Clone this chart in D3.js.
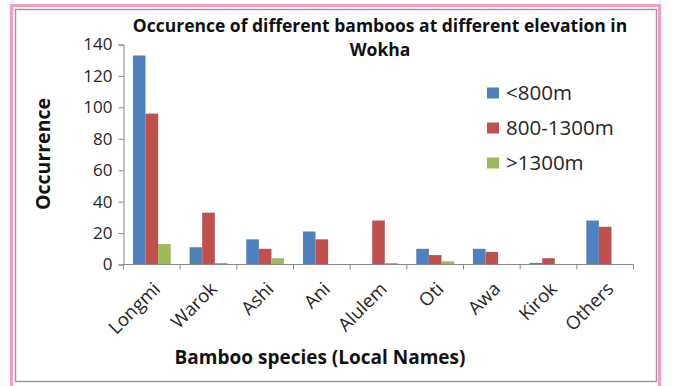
<!DOCTYPE html>
<html>
<head>
<meta charset="utf-8">
<script src="https://cdn.jsdelivr.net/npm/d3@7"></script>
<style>
  html, body { margin: 0; padding: 0; background: #fff; }
  svg { display: block; font-family: "Open Sans", "DejaVu Sans", sans-serif; }
</style>
</head>
<body>
<svg id="chart" width="674" height="386"></svg>
<script>
// Bamboo occurrence by elevation band, Wokha
const species = ["Longmi", "Warok", "Ashi", "Ani", "Alulem", "Oti", "Awa", "Kirok", "Others"];
const seriesNames = ["<800m", "800-1300m", ">1300m"];
const below800 = [133, 11, 16, 21, 0, 10, 10, 1, 28];
const mid800to1300 = [96, 33, 10, 16, 28, 6, 8, 4, 24];
const above1300 = [13, 1, 4, 0, 1, 2, 0, 0, 0];
const yTicks = [0, 20, 40, 60, 80, 100, 120, 140];
const seriesColors = ["#4F81BD", "#C0504D", "#9BBB59"];

const seriesValues = [below800, mid800to1300, above1300];

const svg = d3.select("#chart");
const W = 674, H = 386;

svg.append("rect").attr("width", W).attr("height", H).attr("fill", "#fff");

// outer pink frame and grey chart-area border
svg.append("rect")
  .attr("x", 11.5).attr("y", 5.5).attr("width", 648).attr("height", 390)
  .attr("fill", "none").attr("stroke", "#F59BC6").attr("stroke-width", 3);
svg.append("rect")
  .attr("x", 15.5).attr("y", 9.5).attr("width", 641).attr("height", 372)
  .attr("fill", "none").attr("stroke", "#9c9c9c").attr("stroke-width", 1.5);

const plot = { left: 123.5, right: 633.5, top: 44.5, bottom: 264.5 };

const x = d3.scaleBand().domain(species).range([plot.left, plot.right]).padding(0);
const y = d3.scaleLinear().domain([0, 140]).range([plot.bottom, plot.top]);

// three bars per category with a 150% gap between clusters
const barW = x.bandwidth() / 4.5;
const groups = svg.append("g").selectAll("g")
  .data(seriesValues)
  .join("g")
  .attr("fill", (d, i) => seriesColors[i]);
groups.each(function (vals, si) {
  d3.select(this).selectAll("rect")
    .data(vals)
    .join("rect")
    .attr("x", (v, ci) => x(species[ci]) + barW * 0.75 + si * barW)
    .attr("width", barW)
    .attr("y", v => y(v))
    .attr("height", v => y(0) - y(v));
});

// y axis
const yAxis = svg.append("g")
  .attr("transform", `translate(${plot.left},0)`)
  .call(d3.axisLeft(y).tickValues(yTicks).tickSize(5).tickPadding(6).tickFormat(d3.format("d")));
yAxis.select(".domain").attr("stroke", "#868686");
yAxis.selectAll(".tick line").attr("stroke", "#868686");
yAxis.selectAll("text")
  .attr("font-size", 17).attr("fill", "#262626")
  .attr("font-family", "'Open Sans', sans-serif");

// x axis: tick marks fall between categories
const xAxisG = svg.append("g").attr("transform", `translate(0,${plot.bottom})`);
xAxisG.append("line")
  .attr("x1", plot.left).attr("x2", plot.right)
  .attr("stroke", "#868686");
const boundaries = species.map(s => x(s)).concat([x(species[species.length - 1]) + x.bandwidth()]);
xAxisG.selectAll("line.sep")
  .data(boundaries)
  .join("line")
  .attr("class", "sep")
  .attr("x1", d => d).attr("x2", d => d)
  .attr("y1", 0).attr("y2", 5)
  .attr("stroke", "#868686");

xAxisG.selectAll("text.cat")
  .data(species)
  .join("text")
  .attr("class", "cat")
  .attr("transform", d => `translate(${x(d) + x.bandwidth() / 2 + 5},${21}) rotate(-45)`)
  .attr("text-anchor", "end")
  .attr("dy", "0.35em")
  .attr("font-size", 18.5)
  .attr("fill", "#262626")
  .text(d => d);

// titles
const title = svg.append("text")
  .attr("x", 380).attr("y", 32)
  .attr("text-anchor", "middle")
  .attr("font-weight", "bold")
  .attr("font-size", 17.5)
  .attr("fill", "#111");
title.append("tspan").attr("x", 380).text("Occurence of different bamboos at different elevation in");
title.append("tspan").attr("x", 380).attr("dy", 24).text("Wokha");

svg.append("text")
  .attr("x", 320).attr("y", 364)
  .attr("text-anchor", "middle")
  .attr("font-weight", "bold")
  .attr("font-size", 19)
  .attr("fill", "#111")
  .text("Bamboo species (Local Names)");

svg.append("text")
  .attr("transform", `translate(50,154) rotate(-90)`)
  .attr("text-anchor", "middle")
  .attr("font-weight", "bold")
  .attr("font-size", 19.5)
  .attr("fill", "#111")
  .text("Occurrence");

// legend
const legend = svg.append("g").attr("transform", "translate(487,93)");
const items = legend.selectAll("g")
  .data(seriesNames)
  .join("g")
  .attr("transform", (d, i) => `translate(0,${i * 35})`);
items.append("rect")
  .attr("x", 0).attr("y", -5.5).attr("width", 12).attr("height", 11)
  .attr("fill", (d, i) => seriesColors[i]);
items.append("text")
  .attr("x", 19).attr("y", 0).attr("dy", "0.35em")
  .attr("font-size", 20.5)
  .attr("fill", "#262626")
  .text(d => d);
</script>
</body>
</html>
